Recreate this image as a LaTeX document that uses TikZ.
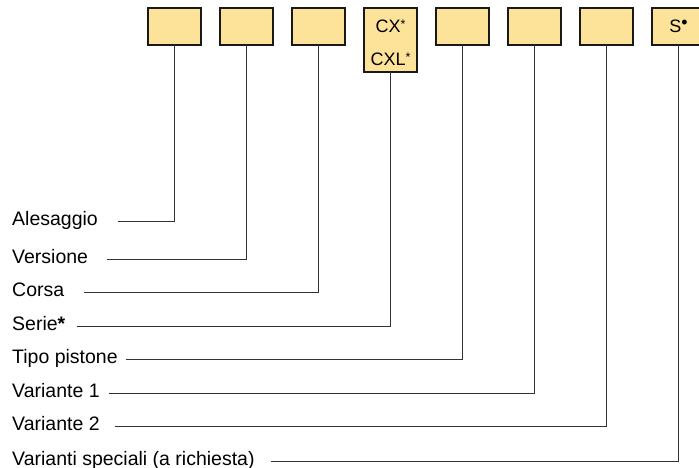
\documentclass[tikz,border=0pt]{standalone}
\usepackage{fontspec}
\setmainfont{Liberation Sans}
\usetikzlibrary{positioning}
\definecolor{codefill}{RGB}{253,226,153}
\tikzset{
    codebox/.style={rectangle, minimum width=53pt, minimum height=37pt, inner sep=0pt, outer sep=0pt, draw=black!90, line width=1.1pt, fill=codefill, font=\fontsize{18}{33}\selectfont, align=center},
    label/.style={anchor=west, inner sep=0pt, text height=13pt, text depth=5pt, font=\fontsize{19.5}{22}\selectfont},
    leader/.style={draw=black!80, line width=1pt}
}
\newcommand{\smallast}{\raisebox{3.5pt}{\fontsize{12.5}{12}\selectfont *}}

\begin{document}
\begin{tikzpicture}[x=1pt, y=-1pt]
        \useasboundingbox (0,0) rectangle (699,468);
        % Nodes
        \node (b1) [codebox, anchor=north west] at (148,8) {};
        \node (b2) [codebox, below right=0pt and 19pt of b1.north east] {};
        \node (b3) [codebox, below right=0pt and 19pt of b2.north east] {};
        \node (b4) [codebox, minimum height=64pt, below right=0pt and 19pt of b3.north east] {\rule{0pt}{18pt}CX\smallast\\CXL\smallast};
        \node (b5) [codebox, below right=0pt and 19pt of b4.north east] {};
        \node (b6) [codebox, below right=0pt and 19pt of b5.north east] {};
        \node (b7) [codebox, below right=0pt and 19pt of b6.north east] {};
        \node (b8) [codebox, below right=0pt and 19pt of b7.north east] {S\raisebox{4.5pt}{•}};

        \node (alesaggio) [label] at (12,221) {Alesaggio};
        \node (versione) [label] at (12,259) {Versione};
        \node (corsa) [label] at (12,292) {Corsa};
        \node (serie) [label] at (12,326) {Serie\textbf{*}};
        \node (pistone) [label] at (12,359) {Tipo pistone};
        \node (var1) [label] at (12,393) {Variante 1};
        \node (var2) [label] at (12,426) {Variante 2};
        \node (speciali) [label] at (12,461) {Varianti speciali (a richiesta)};

        % Leaders
        \draw [leader] ([xshift=20pt]alesaggio.east) -| (b1.south);
        \draw [leader] ([xshift=19pt]versione.east) -| (b2.south);
        \draw [leader] ([xshift=20pt]corsa.east) -| (b3.south);
        \draw [leader] ([xshift=11pt]serie.east) -| (b4.south);
        \draw [leader] ([xshift=8pt]pistone.east) -| (b5.south);
        \draw [leader] ([xshift=9pt]var1.east) -| (b6.south);
        \draw [leader] ([xshift=15pt]var2.east) -| (b7.south);
        \draw [leader] ([xshift=16pt]speciali.east) -| (b8.south);
    \end{tikzpicture}
\end{document}
